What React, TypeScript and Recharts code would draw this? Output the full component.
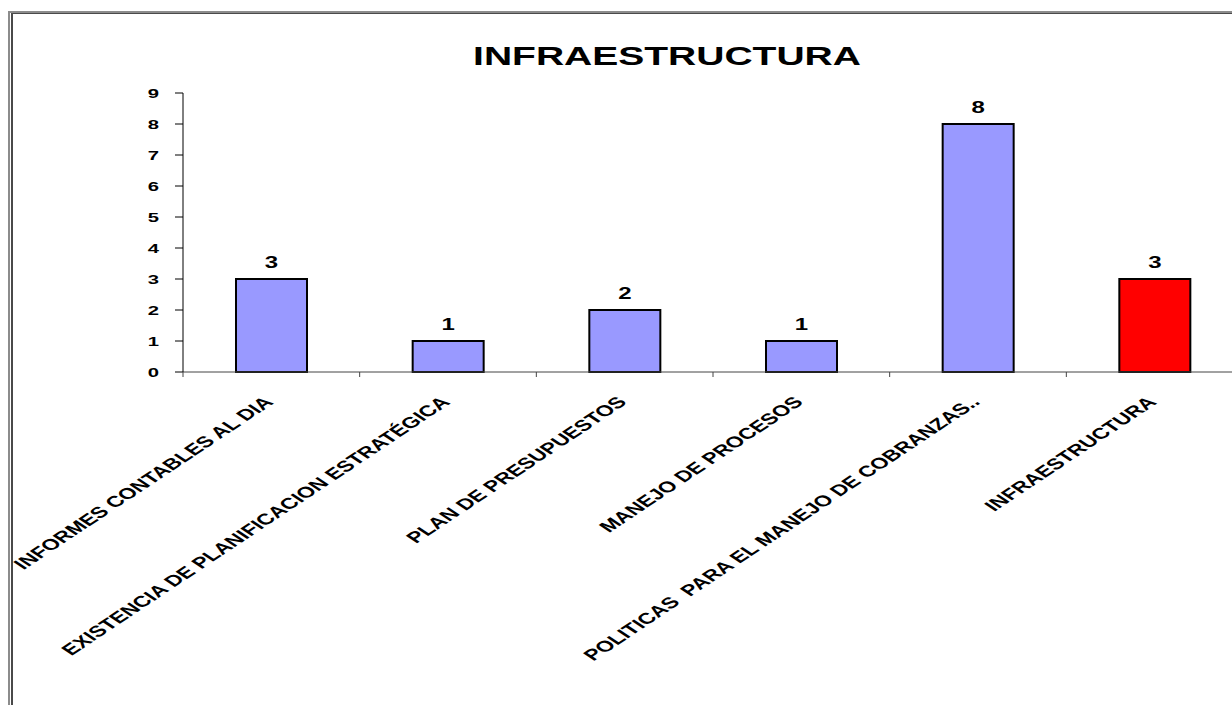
import React from 'react';
import { BarChart, Bar, XAxis, YAxis, Cell, LabelList } from 'recharts';

const categories = [
  'INFORMES CONTABLES AL DIA',
  'EXISTENCIA DE PLANIFICACION ESTRATÉGICA',
  'PLAN DE PRESUPUESTOS',
  'MANEJO DE PROCESOS',
  'POLITICAS  PARA EL MANEJO DE COBRANZAS..',
  'INFRAESTRUCTURA',
];
const values = [3, 1, 2, 1, 8, 3];
const barColors = ['#9999FF', '#9999FF', '#9999FF', '#9999FF', '#9999FF', '#FF0000'];
const yTicks = [0, 1, 2, 3, 4, 5, 6, 7, 8, 9];
const title = 'INFRAESTRUCTURA';

const data = categories.map((name, i) => ({ name, value: values[i] }));

const FONT = '"Liberation Sans", Arial, Helvetica, sans-serif';
// all text in this chart is drawn wide, 1.5x horizontally
const STRETCH = 1.5;
const X_LABEL_DROP = 31;

const YTick = (props: any) => {
  const { x, y, payload } = props;
  return (
    <text
      transform={`translate(${x},${y}) scale(${STRETCH},1)`}
      textAnchor="end"
      dy="0.35em"
      fontSize={13.5}
      fontWeight={700}
      fontFamily={FONT}
      fill="#000"
    >
      {payload.value}
    </text>
  );
};

const XTick = (props: any) => {
  const { x, y, payload, width, visibleTicksCount } = props;
  const half = payload.offset ?? width / visibleTicksCount / 2;
  const axisY = y - X_LABEL_DROP;
  const edge = x - half;
  return (
    <g>
      <line x1={edge} x2={edge} y1={axisY} y2={axisY + 5} stroke="#444" strokeWidth={1} />
      <text
        transform={`translate(${x + 3},${y}) scale(${STRETCH},1) rotate(-45)`}
        textAnchor="end"
        fontSize={15.5}
        fontWeight={700}
        fontFamily={FONT}
        fill="#000"
        style={{ whiteSpace: 'pre' }}
      >
        {payload.value}
      </text>
    </g>
  );
};

const ValueLabel = (props: any) => {
  const { x, y, width, value } = props;
  return (
    <text
      transform={`translate(${x + width / 2},${y - 11}) scale(${STRETCH},1)`}
      textAnchor="middle"
      fontSize={16}
      fontWeight={700}
      fontFamily={FONT}
      fill="#000"
    >
      {value}
    </text>
  );
};

export default function App() {
  return (
    <div
      style={{
        position: 'fixed',
        left: 0,
        top: 0,
        width: 1232,
        height: 705,
        overflow: 'hidden',
        background: '#fff',
      }}
    >
      {/* window frame */}
      <div
        style={{
          position: 'absolute',
          left: 8,
          top: 11,
          width: 1300,
          height: 800,
          borderLeft: '2px solid #8c8c8c',
          borderTop: '2px solid #8c8c8c',
        }}
      />
      <div
        style={{
          position: 'absolute',
          left: 11,
          top: 13,
          width: 1300,
          height: 800,
          borderLeft: '2px solid #4a4a4a',
          borderTop: '1px solid #4a4a4a',
        }}
      />
      <div
        style={{
          position: 'absolute',
          left: 667,
          top: 43,
          transform: 'translateX(-50%) scaleX(1.5)',
          fontFamily: FONT,
          fontWeight: 700,
          fontSize: 26,
          lineHeight: '26px',
          whiteSpace: 'nowrap',
          color: '#000',
        }}
      >
        {title}
      </div>
      <div style={{ position: 'absolute', left: 0, top: 0 }}>
        <BarChart
          width={1300}
          height={705}
          data={data}
          margin={{ top: 93, right: 57, left: 0, bottom: 0 }}
          barCategoryGap="30%"
        >
          <XAxis
            dataKey="name"
            height={333}
            interval={0}
            tickLine={false}
            tickSize={0}
            tickMargin={X_LABEL_DROP}
            axisLine={{ stroke: '#444', strokeWidth: 1 }}
            tick={<XTick />}
          />
          <YAxis
            width={183}
            domain={[0, 9]}
            ticks={yTicks}
            interval={0}
            tickSize={8}
            tickMargin={16}
            axisLine={{ stroke: '#000', strokeWidth: 1 }}
            tickLine={{ stroke: '#000', strokeWidth: 1 }}
            tick={<YTick />}
          />
          <Bar dataKey="value" isAnimationActive={false} stroke="#000" strokeWidth={2}>
            {values.map((_, i) => (
              <Cell key={`cell-${i}`} fill={barColors[i]} />
            ))}
            <LabelList dataKey="value" content={<ValueLabel />} />
          </Bar>
        </BarChart>
      </div>
    </div>
  );
}
